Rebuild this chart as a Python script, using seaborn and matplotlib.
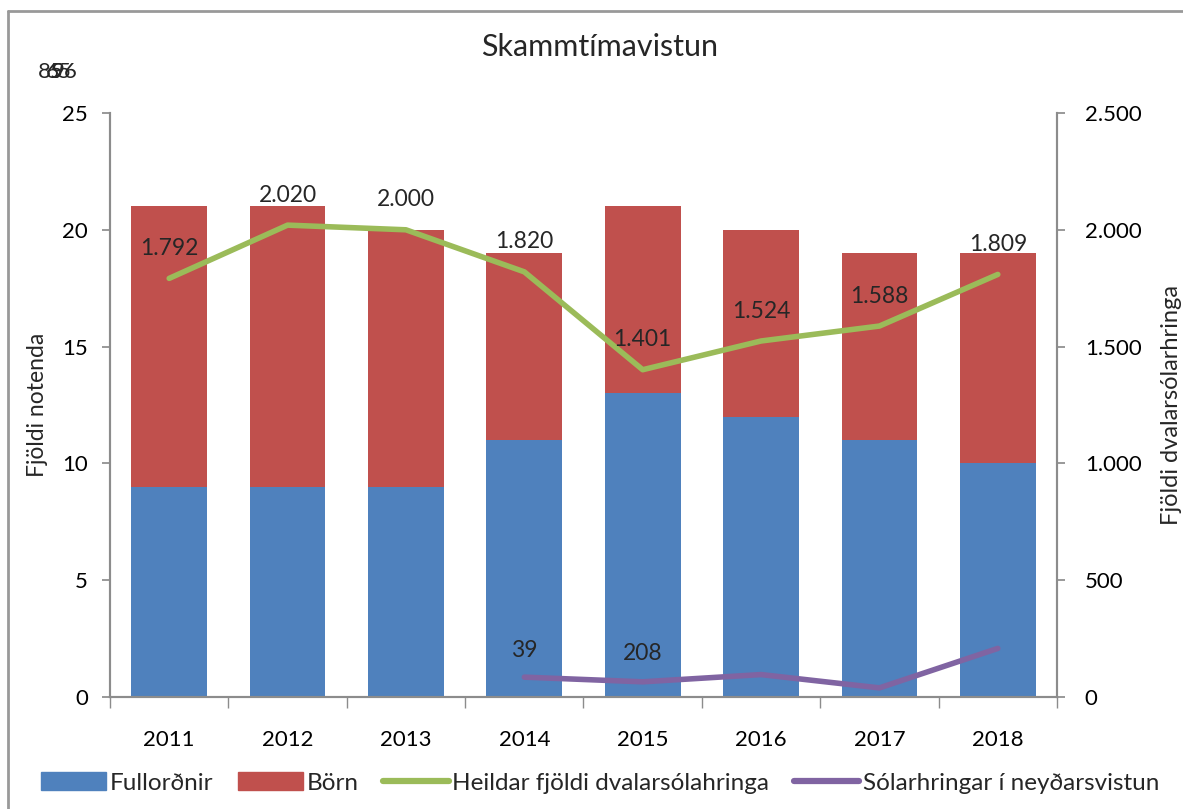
import matplotlib
matplotlib.use("Agg")
import matplotlib.pyplot as plt
import seaborn as sns
import numpy as np
from matplotlib.patches import Rectangle
from matplotlib.lines import Line2D
from matplotlib.ticker import FuncFormatter, FixedLocator

years = ["2011", "2012", "2013", "2014", "2015", "2016", "2017", "2018"]
fullordnir = [9, 9, 9, 11, 13, 12, 11, 10]
born = [12, 12, 11, 8, 8, 8, 8, 9]
heildar = [1792, 2020, 2000, 1820, 1401, 1524, 1588, 1809]
neyd_years = ["2014", "2015", "2016", "2017", "2018"]
neyd = [85, 65, 96, 39, 208]

sns.set_theme(style="white")
plt.rcParams["font.family"] = ["Lato", "DejaVu Sans"]

blue = "#4F81BD"
red = "#C0504D"
green = "#9BBB59"
purple = "#8064A2"
axcol = "#8C8C8C"
fs = 16

fig = plt.figure(figsize=(11.83, 8.09), dpi=100)
ax = fig.add_axes([110 / 1183, 1 - 697 / 809, (1057 - 110) / 1183, (697 - 113) / 809])

totals = [f + b for f, b in zip(fullordnir, born)]
sns.barplot(x=years, y=totals, color=red, saturation=1, width=0.64, linewidth=0, ax=ax)
sns.barplot(x=years, y=fullordnir, color=blue, saturation=1, width=0.64, linewidth=0, ax=ax)

ax.set_ylim(0, 25)
ax.set_xlim(-0.5, len(years) - 0.5)
ax.set_yticks([0, 5, 10, 15, 20, 25])
ax.set_ylabel("Fjöldi notenda", fontsize=fs + 0.5, labelpad=10)
ax.tick_params(axis="y", labelsize=fs, length=6, color=axcol, direction="out", left=True, pad=10,
               labelcolor="black")
ax.tick_params(axis="x", which="major", labelsize=fs, length=0, pad=24, labelcolor="black")
ax.xaxis.set_minor_locator(FixedLocator(np.arange(-0.5, len(years), 1)))
ax.tick_params(axis="x", which="minor", length=8, color=axcol, direction="out", bottom=True)
for s in ["left", "bottom", "right"]:
    ax.spines[s].set_color(axcol)
    ax.spines[s].set_linewidth(1.5)
ax.spines["top"].set_visible(False)

ax2 = ax.twinx()
pos = np.arange(len(years))
sns.lineplot(x=pos, y=heildar, color=green, linewidth=4, ax=ax2)
npos = [years.index(y) for y in neyd_years]
sns.lineplot(x=npos, y=neyd, color=purple, linewidth=4, ax=ax2)
ax2.set_ylim(0, 2500)
ax2.set_yticks([0, 500, 1000, 1500, 2000, 2500])
ax2.yaxis.set_major_formatter(FuncFormatter(lambda v, p: f"{int(v):,}".replace(",", ".")))
ax2.set_ylabel("Fjöldi dvalarsólarhringa", fontsize=fs + 1, labelpad=14)
ax2.tick_params(axis="y", labelsize=fs, length=6, color=axcol, direction="out", right=True, pad=14,
                labelcolor="black")
for s in ["left", "bottom", "right"]:
    ax2.spines[s].set_color(axcol)
    ax2.spines[s].set_linewidth(1.5)
ax2.spines["top"].set_visible(False)
ax2.grid(False)
ax.grid(False)

# data labels for total days
for i, v in enumerate(heildar):
    ax2.text(i, v + 128, f"{v:,}".replace(",", "."), ha="center", va="center", fontsize=fs + 0.5)

# misplaced labels of the emergency series, as in the reference
ax2.text(years.index("2014"), 200, str(neyd[3]), ha="center", va="center", fontsize=fs + 0.5)
ax2.text(years.index("2015"), 185, str(neyd[4]), ha="center", va="center", fontsize=fs + 0.5)
for v, x in zip(neyd[:3], [38, 46, 52]):
    fig.text(x / 1183, 1 - 72 / 809, str(v), ha="left", va="center", fontsize=fs)

fig.text(600 / 1183, 1 - 47 / 809, "Skammtímavistun", ha="center", va="center", fontsize=22)

handles = [
    Rectangle((0, 0), 1, 1, color=blue),
    Rectangle((0, 0), 1, 1, color=red),
    Line2D([], [], color=green, linewidth=4.5),
    Line2D([], [], color=purple, linewidth=4.5),
]
labels = ["Fullorðnir", "Börn", "Heildar fjöldi dvalarsólahringa", "Sólarhringar í neyðarsvistun"]
fig.legend(handles, labels, loc="center", bbox_to_anchor=(600 / 1183, 1 - 783 / 809), ncol=4,
           frameon=False, fontsize=17.5, handlelength=2.7, handleheight=0.7, columnspacing=1.0,
           handletextpad=0.15)

fig.add_artist(Line2D([8 / 1183, 8 / 1183], [0, 1 - 11 / 809], transform=fig.transFigure,
                      color="#999999", linewidth=2))
fig.add_artist(Line2D([8 / 1183, 1], [1 - 11 / 809, 1 - 11 / 809], transform=fig.transFigure,
                      color="#999999", linewidth=2))

fig.savefig("out.png", dpi=100)
